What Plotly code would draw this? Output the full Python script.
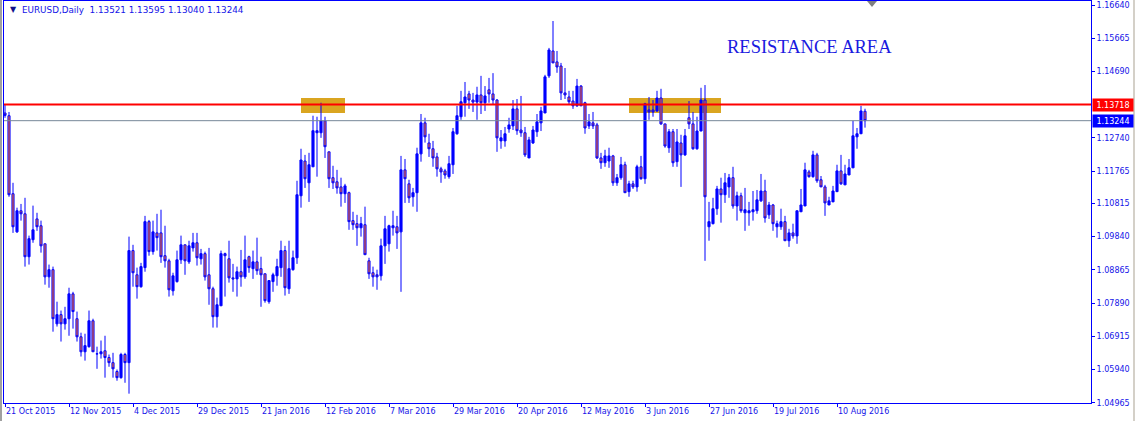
import pandas as pd
import plotly.graph_objects as go

# ---------------- data ----------------
holidays = ["2015-12-25", "2016-01-01"]
dates = [d for d in pd.bdate_range("2015-10-21", "2016-08-19")
         if d.strftime("%Y-%m-%d") not in holidays]

open_ = [
    1.1347, 1.1339, 1.1110, 1.0998, 1.1060, 1.1051, 1.0925, 1.0975, 1.1036, 1.1016,
    1.0963, 1.0866, 1.0887, 1.0728, 1.0755, 1.0728, 1.0743, 1.0816, 1.0743, 1.0690,
    1.0646, 1.0661, 1.0737, 1.0640, 1.0640, 1.0649, 1.0629, 1.0614, 1.0588, 1.0570,
    1.0638, 1.0614, 1.0943, 1.0872, 1.0837, 1.0893, 1.1028, 1.0940, 1.0995, 1.0995,
    1.0928, 1.0913, 1.0825, 1.0852, 1.0916, 1.0960, 1.0910, 1.0951, 1.0966, 1.0919,
    1.0934, 1.0872, 1.0831, 1.0749, 1.0781, 1.0934, 1.0919, 1.0863, 1.0860, 1.0881,
    1.0866, 1.0925, 1.0890, 1.0910, 1.0890, 1.0875, 1.0793, 1.0852, 1.0869, 1.0893,
    1.0943, 1.0831, 1.0887, 1.0922, 1.1104, 1.1206, 1.1142, 1.1189, 1.1289, 1.1289,
    1.1324, 1.1233, 1.1157, 1.1145, 1.1130, 1.1110, 1.1113, 1.1031, 1.1022, 1.1010,
    1.1019, 1.0913, 1.0878, 1.0872, 1.0869, 1.0957, 1.0963, 1.1010, 1.1013, 1.0998,
    1.1180, 1.1139, 1.1101, 1.1113, 1.1227, 1.1318, 1.1259, 1.1242, 1.1218, 1.1183,
    1.1177, 1.1160, 1.1195, 1.1286, 1.1336, 1.1377, 1.1403, 1.1385, 1.1379, 1.1400,
    1.1377, 1.1415, 1.1403, 1.1385, 1.1265, 1.1265, 1.1300, 1.1309, 1.1359, 1.1297,
    1.1289, 1.1215, 1.1259, 1.1292, 1.1318, 1.1347, 1.1456, 1.1529, 1.1497, 1.1485,
    1.1406, 1.1394, 1.1382, 1.1368, 1.1426, 1.1377, 1.1309, 1.1318, 1.1312, 1.1215,
    1.1201, 1.1206, 1.1221, 1.1142, 1.1157, 1.1195, 1.1116, 1.1139, 1.1130, 1.1189,
    1.1154, 1.1356, 1.1356, 1.1353, 1.1391, 1.1315, 1.1245, 1.1292, 1.1204, 1.1259,
    1.1224, 1.1333, 1.1315, 1.1242, 1.1294, 1.1385, 1.1013, 1.1022, 1.1066, 1.1124,
    1.1107, 1.1130, 1.1157, 1.1074, 1.1104, 1.1054, 1.1054, 1.1057, 1.1060, 1.1089,
    1.1118, 1.1048, 1.1077, 1.1013, 1.1013, 1.1028, 1.0972, 1.0995, 1.0986, 1.1057,
    1.1074, 1.1174, 1.1160, 1.1224, 1.1151, 1.1130, 1.1077, 1.1086, 1.1116, 1.1177,
    1.1136, 1.1165, 1.1186, 1.1277, 1.1286, 1.13521,
]

high = [
    1.1372, 1.1350, 1.1142, 1.1069, 1.1080, 1.1098, 1.0987, 1.1075, 1.1054, 1.1031,
    1.0963, 1.0902, 1.0896, 1.0793, 1.0767, 1.0778, 1.0834, 1.0822, 1.0764, 1.0702,
    1.0699, 1.0767, 1.0743, 1.0661, 1.0679, 1.0693, 1.0638, 1.0643, 1.0594, 1.0643,
    1.0643, 1.0984, 1.0960, 1.0893, 1.0907, 1.1045, 1.1033, 1.1031, 1.1051, 1.1063,
    1.1016, 1.0919, 1.0878, 1.0943, 1.0987, 1.0960, 1.0972, 1.0995, 1.0995, 1.0948,
    1.0940, 1.0951, 1.0837, 1.0805, 1.0943, 1.0937, 1.0972, 1.0904, 1.0896, 1.0945,
    1.0987, 1.0928, 1.0943, 1.0981, 1.0925, 1.0875, 1.0855, 1.0878, 1.0919, 1.0972,
    1.0957, 1.0972, 1.0943, 1.1148, 1.1242, 1.1224, 1.1230, 1.1339, 1.1336, 1.1377,
    1.1336, 1.1233, 1.1192, 1.1180, 1.1157, 1.1139, 1.1116, 1.1057, 1.1048, 1.1042,
    1.1072, 1.0922, 1.0896, 1.0887, 1.0978, 1.1045, 1.1019, 1.1060, 1.1045, 1.1221,
    1.1212, 1.1151, 1.1127, 1.1245, 1.1344, 1.1333, 1.1286, 1.1265, 1.1230, 1.1189,
    1.1183, 1.1221, 1.1303, 1.1368, 1.1412, 1.1438, 1.1412, 1.1406, 1.1424, 1.1456,
    1.1426, 1.1450, 1.1464, 1.1388, 1.1297, 1.1306, 1.1333, 1.1385, 1.1388, 1.1397,
    1.1306, 1.1277, 1.1309, 1.1344, 1.1365, 1.1459, 1.1538, 1.1617, 1.1529, 1.1494,
    1.1479, 1.1412, 1.1412, 1.1447, 1.1429, 1.1380, 1.1344, 1.1350, 1.1318, 1.1230,
    1.1239, 1.1245, 1.1224, 1.1168, 1.1218, 1.1204, 1.1148, 1.1148, 1.1195, 1.1221,
    1.1377, 1.1394, 1.1385, 1.1412, 1.1418, 1.1315, 1.1300, 1.1300, 1.1300, 1.1283,
    1.1300, 1.1382, 1.1350, 1.1336, 1.1421, 1.1429, 1.1086, 1.1098, 1.1133, 1.1157,
    1.1171, 1.1168, 1.1189, 1.1116, 1.1113, 1.1127, 1.1086, 1.1118, 1.1121, 1.1168,
    1.1151, 1.1086, 1.1080, 1.1031, 1.1066, 1.1045, 1.1007, 1.1022, 1.1060, 1.1124,
    1.1201, 1.1180, 1.1236, 1.1230, 1.1162, 1.1136, 1.1101, 1.1133, 1.1195, 1.1224,
    1.1195, 1.1212, 1.1324, 1.1303, 1.1368, 1.13595,
]

low = [
    1.1333, 1.1101, 1.0995, 1.0995, 1.1031, 1.0896, 1.0902, 1.0966, 1.1001, 1.0937,
    1.0843, 1.0834, 1.0705, 1.0720, 1.0676, 1.0711, 1.0693, 1.0714, 1.0676, 1.0632,
    1.0620, 1.0658, 1.0646, 1.0596, 1.0626, 1.0570, 1.0602, 1.0570, 1.0561, 1.0567,
    1.0555, 1.0523, 1.0837, 1.0802, 1.0834, 1.0881, 1.0928, 1.0931, 1.0943, 1.0907,
    1.0893, 1.0808, 1.0811, 1.0849, 1.0904, 1.0872, 1.0904, 1.0940, 1.0899, 1.0902,
    1.0855, 1.0784, 1.0717, 1.0717, 1.0781, 1.0808, 1.0849, 1.0822, 1.0808, 1.0837,
    1.0860, 1.0878, 1.0860, 1.0872, 1.0778, 1.0790, 1.0787, 1.0822, 1.0840, 1.0866,
    1.0811, 1.0816, 1.0884, 1.0904, 1.1069, 1.1127, 1.1086, 1.1189, 1.1160, 1.1274,
    1.1215, 1.1127, 1.1124, 1.1110, 1.1072, 1.1083, 1.1004, 1.1004, 1.0957, 1.0984,
    1.0931, 1.0860, 1.0837, 1.0828, 1.0855, 1.0904, 1.0940, 1.0987, 1.0948, 1.0822,
    1.1083, 1.1083, 1.1072, 1.1057, 1.1204, 1.1260, 1.1218, 1.1189, 1.1160, 1.1142,
    1.1154, 1.1154, 1.1168, 1.1283, 1.1327, 1.1336, 1.1359, 1.1350, 1.1327, 1.1344,
    1.1353, 1.1377, 1.1371, 1.1233, 1.1242, 1.1248, 1.1289, 1.1297, 1.1283, 1.1277,
    1.1218, 1.1215, 1.1256, 1.1277, 1.1294, 1.1347, 1.1450, 1.1494, 1.1465, 1.1385,
    1.1388, 1.1371, 1.1359, 1.1365, 1.1368, 1.1286, 1.1300, 1.1300, 1.1212, 1.1183,
    1.1189, 1.1186, 1.1133, 1.1133, 1.1151, 1.1113, 1.1101, 1.1124, 1.1116, 1.1151,
    1.1139, 1.1327, 1.1336, 1.1350, 1.1312, 1.1245, 1.1230, 1.1189, 1.1189, 1.1130,
    1.1221, 1.1300, 1.1239, 1.1239, 1.1294, 1.0913, 1.0972, 1.1020, 1.1048, 1.1025,
    1.1083, 1.1098, 1.1066, 1.1031, 1.1054, 1.1001, 1.1016, 1.1031, 1.1051, 1.1086,
    1.1025, 1.1036, 1.1001, 1.0981, 1.1004, 1.0972, 1.0954, 1.0978, 1.0963, 1.1057,
    1.1074, 1.1157, 1.1157, 1.1142, 1.1130, 1.1045, 1.1077, 1.1086, 1.1116, 1.1136,
    1.1136, 1.1165, 1.1186, 1.1242, 1.1286, 1.13040,
]

close = [
    1.1340, 1.1107, 1.1013, 1.1060, 1.1051, 1.0925, 1.0978, 1.1004, 1.1013, 1.0957,
    1.0866, 1.0887, 1.0743, 1.0755, 1.0728, 1.0743, 1.0816, 1.0764, 1.0690, 1.0646,
    1.0664, 1.0737, 1.0646, 1.0640, 1.0646, 1.0629, 1.0614, 1.0596, 1.0570, 1.0638,
    1.0614, 1.0943, 1.0878, 1.0837, 1.0896, 1.1028, 1.0940, 1.0998, 1.0981, 1.0925,
    1.0913, 1.0828, 1.0869, 1.0916, 1.0960, 1.0913, 1.0957, 1.0966, 1.0922, 1.0934,
    1.0866, 1.0831, 1.0749, 1.0784, 1.0934, 1.0928, 1.0863, 1.0860, 1.0881, 1.0866,
    1.0916, 1.0893, 1.0910, 1.0884, 1.0872, 1.0796, 1.0855, 1.0872, 1.0896, 1.0943,
    1.0834, 1.0890, 1.0922, 1.1107, 1.1209, 1.1154, 1.1195, 1.1295, 1.1295, 1.1324,
    1.1248, 1.1154, 1.1142, 1.1127, 1.1110, 1.1133, 1.1028, 1.1019, 1.1010, 1.1022,
    1.0931, 1.0875, 1.0866, 1.0866, 1.0957, 1.1007, 1.1016, 1.1016, 1.0995, 1.1180,
    1.1154, 1.1098, 1.1113, 1.1227, 1.1318, 1.1277, 1.1242, 1.1215, 1.1183, 1.1174,
    1.1165, 1.1198, 1.1292, 1.1339, 1.1380, 1.1394, 1.1385, 1.1379, 1.1400, 1.1377,
    1.1397, 1.1403, 1.1385, 1.1274, 1.1274, 1.1286, 1.1312, 1.1359, 1.1295, 1.1289,
    1.1224, 1.1268, 1.1297, 1.1321, 1.1353, 1.1453, 1.1532, 1.1494, 1.1482, 1.1406,
    1.1400, 1.1380, 1.1368, 1.1426, 1.1368, 1.1303, 1.1321, 1.1309, 1.1215, 1.1201,
    1.1221, 1.1221, 1.1142, 1.1157, 1.1195, 1.1113, 1.1139, 1.1130, 1.1189, 1.1154,
    1.1374, 1.1350, 1.1350, 1.1391, 1.1315, 1.1250, 1.1292, 1.1201, 1.1262, 1.1224,
    1.1280, 1.1315, 1.1242, 1.1294, 1.1385, 1.1101, 1.1028, 1.1066, 1.1124, 1.1107,
    1.1142, 1.1157, 1.1074, 1.1104, 1.1060, 1.1063, 1.1060, 1.1063, 1.1092, 1.1118,
    1.1039, 1.1077, 1.1022, 1.1022, 1.1028, 1.0972, 1.0995, 1.0986, 1.1060, 1.1077,
    1.1180, 1.1160, 1.1224, 1.1148, 1.1130, 1.1083, 1.1089, 1.1118, 1.1177, 1.1139,
    1.1168, 1.1186, 1.1280, 1.1286, 1.1353, 1.13244,
]

y_tick_values = [1.16640, 1.15665, 1.14690, 1.12740, 1.11765, 1.10815,
                 1.09840, 1.08865, 1.07890, 1.06915, 1.05940, 1.04965]
resistance_level = 1.13718
bid_level = close[-1]
zone_low, zone_high = 1.1347, 1.1391
zone_bars = [(74, 85), (156, 179)]
symbol = "EURUSD,Daily"
note_text = "RESISTANCE AREA"

assert len(dates) == len(open_) == len(high) == len(low) == len(close)

# ---------------- figure ----------------
BLUE = "#0000FF"
TXT = "#1414E8"
AXFONT = dict(family="DejaVu Sans", size=8, color=TXT)

idx = list(range(len(dates)))
tick_idx = idx[::16]
tick_txt = [f"{dates[i].day} {dates[i].strftime('%b %Y')}" for i in tick_idx]

W, H = 1135, 421
ML, MR, MT, MB = 4, 44, 1, 18
PW = W - ML - MR
PH = H - MT - MB

fig = go.Figure()
fig.add_trace(go.Candlestick(
    x=idx, open=open_, high=high, low=low, close=close,
    increasing=dict(line=dict(color=BLUE, width=1), fillcolor=BLUE),
    decreasing=dict(line=dict(color=BLUE, width=1), fillcolor="#FF6A2A"),
    whiskerwidth=0, showlegend=False, hoverinfo="skip",
))

shapes = []
for a, b in zone_bars:
    shapes.append(dict(type="rect", xref="x", yref="y", x0=a, x1=b,
                       y0=zone_low, y1=zone_high, fillcolor="#DAA520",
                       line=dict(width=0), layer="below"))
shapes.append(dict(type="line", xref="paper", yref="y", x0=0, x1=1,
                   y0=bid_level, y1=bid_level,
                   line=dict(color="#778899", width=1), layer="above"))
shapes.append(dict(type="line", xref="paper", yref="y", x0=0, x1=1,
                   y0=resistance_level, y1=resistance_level,
                   line=dict(color="#FF0000", width=2), layer="above"))
# window edge strips
shapes.append(dict(type="rect", xref="paper", yref="paper",
                   x0=-ML / PW, x1=-(ML - 2) / PW, y0=-MB / PH, y1=1 + MT / PH,
                   fillcolor="#A0A0A0", line=dict(width=0), layer="above"))
shapes.append(dict(type="rect", xref="paper", yref="paper",
                   x0=(PW + MR - 2) / PW, x1=(PW + MR) / PW, y0=-MB / PH, y1=1 + MT / PH,
                   fillcolor="#D4D0C8", line=dict(width=0), layer="above"))
# chart-shift marker
sx = (872 - ML) / PW
shapes.append(dict(type="path", xref="paper", yref="paper",
                   path=f"M {sx - 5 / PW},{1} L {sx + 5 / PW},{1} L {sx},{1 - 6 / PH} Z",
                   fillcolor="#808080", line=dict(width=0), layer="above"))

annotations = [
    dict(xref="paper", yref="paper", x=(8 - ML) / PW, y=1 - (10 - MT) / PH,
         text="▼", showarrow=False, xanchor="left", yanchor="middle",
         font=dict(family="DejaVu Sans", size=8, color="#10108A")),
    dict(xref="paper", yref="paper", x=(20 - ML) / PW, y=1 - (10 - MT) / PH,
         text=f"{symbol}  {open_[-1]:.5f} {high[-1]:.5f} {low[-1]:.5f} {close[-1]:.5f}",
         showarrow=False, xanchor="left", yanchor="middle",
         font=dict(family="DejaVu Sans", size=8.8, color=TXT)),
    dict(xref="paper", yref="paper", x=(809 - ML) / PW, y=1 - (46.5 - MT) / PH,
         text=note_text, showarrow=False, xanchor="center", yanchor="middle",
         font=dict(family="Liberation Serif", size=18.5, color="#1A1AE0")),
    dict(xref="paper", yref="y", x=1, y=resistance_level, xanchor="left",
         yanchor="middle", xshift=1, text=f"{resistance_level:.5f}", showarrow=False,
         bgcolor="#FF0000", width=40, height=12, borderpad=0,
         font=dict(family="DejaVu Sans", size=8, color="white")),
    dict(xref="paper", yref="y", x=1, y=bid_level, xanchor="left",
         yanchor="middle", xshift=1, text=f"{bid_level:.5f}", showarrow=False,
         bgcolor="#0000FF", width=40, height=12, borderpad=0,
         font=dict(family="DejaVu Sans", size=8, color="white")),
]

# price scale: 1.16640 sits 4 px below the top edge, 1.04965 on the bottom edge
k = (y_tick_values[0] - y_tick_values[-1]) / (PH - 4)
ytop = y_tick_values[0] + 4 * k
ybot = y_tick_values[-1] - 0.3 * k

fig.update_layout(
    width=W, height=H,
    margin=dict(l=ML, r=MR, t=MT, b=MB, pad=0),
    paper_bgcolor="white", plot_bgcolor="white",
    boxgap=0.25,
    shapes=shapes, annotations=annotations, showlegend=False,
    xaxis=dict(range=[-0.25, (PW - 1) / 4.0], showgrid=False, zeroline=False,
               showline=True, linecolor=BLUE, linewidth=1, mirror=True,
               ticks="outside", ticklen=3, tickcolor=BLUE, tickwidth=1,
               tickvals=tick_idx, ticktext=tick_txt,
               ticklabelposition="outside right", tickfont=AXFONT,
               rangeslider=dict(visible=False), fixedrange=True),
    yaxis=dict(range=[ybot, ytop], side="right", showgrid=False, zeroline=False,
               showline=True, linecolor=BLUE, linewidth=1, mirror=True,
               ticks="outside", ticklen=3, tickcolor=BLUE, tickwidth=1,
               tickvals=y_tick_values, ticktext=[f"{v:.5f}" for v in y_tick_values],
               tickfont=AXFONT, fixedrange=True),
)

fig.write_html("out.html", config={"displayModeBar": False},
               post_script="document.body.style.margin='0';document.body.style.padding='0';document.body.style.overflow='hidden';")
